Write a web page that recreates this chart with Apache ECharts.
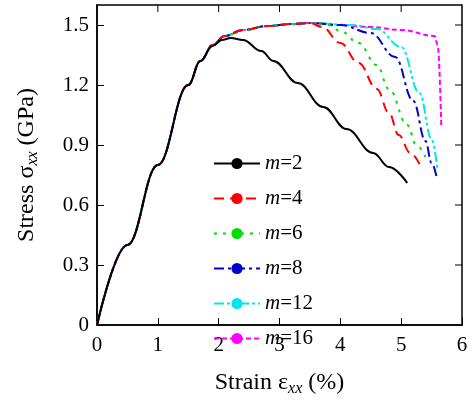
<!DOCTYPE html>
<html><head><meta charset="utf-8">
<script src="https://cdn.jsdelivr.net/npm/echarts@6/dist/echarts.min.js"></script>
<style>body{margin:0}#c{width:474px;height:414px}</style></head>
<body><div id="c"></div>
<script>
// shared elastic + hardening part
const rise = [[0,0],[0.5,0.4],[1,0.8],[1.5,1.2],[1.7,1.32],[1.9,1.4],[2.1,1.445],[2.4,1.475],[2.8,1.495],[3.2,1.505],[3.5,1.51]];
const m2 = [[0,0],[0.5,0.4],[1,0.8],[1.5,1.2],[1.7,1.32],[1.9,1.395],[2.05,1.425],[2.2,1.435],[2.4,1.425],[2.7,1.37],[2.9,1.32],[3.3,1.21],[3.72,1.09],[4.1,0.98],[4.54,0.86],[4.8,0.79],[5.1,0.71]];
const m4tail = [[3.7,1.49],[4.0,1.41],[4.3,1.31],[4.6,1.18],[4.8,1.06],[4.96,0.95],[5.15,0.86],[5.31,0.8]];
const m6tail = [[3.8,1.5],[4.0,1.47],[4.3,1.41],[4.6,1.3],[4.8,1.18],[5.1,1.0],[5.25,0.9],[5.4,0.84]];
const m8tail = [[4.0,1.5],[4.5,1.46],[4.9,1.34],[5.2,1.12],[5.4,0.92],[5.5,0.81],[5.59,0.73]];
const m12tail = [[4.2,1.5],[4.6,1.48],[5.0,1.39],[5.3,1.16],[5.5,0.93],[5.6,0.77]];
const m16tail = [[4.0,1.5],[4.5,1.49],[5.0,1.475],[5.55,1.445],[5.6,1.4],[5.66,0.99]];
const labels = ['2','4','6','8','12','16'];
const colors = ['#000000','#ff0000','#00dd00','#0000cc','#00e5ee','#ff00ff'];
const dashes = ['solid',[10,6],[3,6],[10,4,3,4],[10,3,3,3,3,3],[5,3]];
const tails = [null,m4tail,m6tail,m8tail,m12tail,m16tail];

const serif = 'Liberation Serif';
const chart = echarts.init(document.getElementById('c'));
chart.setOption({
  animation:false,
  grid:{left:97,right:12,top:5,bottom:89},
  legend:{
    orient:'vertical',left:208,top:148,itemWidth:46,itemHeight:14,itemGap:14,
    textStyle:{fontFamily:serif,fontSize:21,color:'#000',rich:{i:{fontStyle:'italic',fontFamily:serif,fontSize:21}}},
    formatter:n=>'{i|m}='+n.split('=')[1]
  },
  xAxis:{type:'value',min:0,max:6,interval:1,
    name:'{a|Strain ε}{s|xx}{a| (%)}',nameLocation:'middle',nameGap:44,
    nameTextStyle:{rich:{a:{fontFamily:serif,fontSize:24,color:'#000'},s:{fontFamily:serif,fontStyle:'italic',fontSize:16,color:'#000',padding:[12,0,0,0]}}},
    axisLine:{lineStyle:{color:'#000',width:1.5}},axisTick:{inside:true,length:7,lineStyle:{color:'#000'}},
    axisLabel:{fontFamily:serif,fontSize:21,color:'#000',margin:10},splitLine:{show:false}},
  yAxis:{type:'value',min:0,max:1.6,interval:0.3,
    name:'{a|Stress σ}{s|xx}{a| (GPa)}',nameLocation:'middle',nameGap:56,
    nameTextStyle:{rich:{a:{fontFamily:serif,fontSize:24,color:'#000'},s:{fontFamily:serif,fontStyle:'italic',fontSize:16,color:'#000',padding:[12,0,0,0]}}},
    axisLine:{lineStyle:{color:'#000',width:1.5}},axisTick:{inside:true,length:7,lineStyle:{color:'#000'}},
    axisLabel:{fontFamily:serif,fontSize:21,color:'#000',formatter:v=>v===0?'0':v.toFixed(1)},splitLine:{show:false}},
  graphic:[{type:'rect',shape:{x:97,y:5,width:365,height:320},style:{fill:'none',stroke:'#000',lineWidth:1.5},silent:true},
    ...[1,2,3,4,5].map(i=>({type:'line',shape:{x1:97+i*365/6,y1:5,x2:97+i*365/6,y2:12},style:{stroke:'#000',lineWidth:1}})),
    ...[1,2,3,4,5].map(i=>({type:'line',shape:{x1:462,y1:325-i*60,x2:455,y2:325-i*60},style:{stroke:'#000',lineWidth:1}}))],
  series:labels.map((l,i)=>({
    name:'m='+l,type:'line',symbol:'none',smooth:0.4,smoothMonotone:'x',z:10-i,
    data:i===0?m2:rise.concat(tails[i]),
    lineStyle:{color:colors[i],width:2,type:dashes[i]},itemStyle:{color:colors[i]}
  }))
});
</script></body></html>
